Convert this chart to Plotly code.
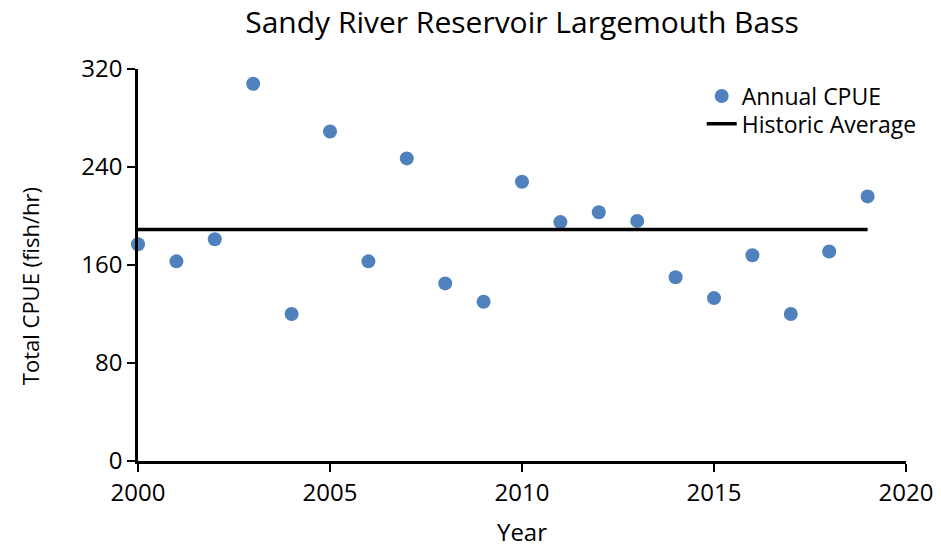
import plotly.graph_objects as go

years = list(range(2000, 2020))
cpue = [177, 163, 181, 308, 120, 269, 163, 247, 145, 130,
        228, 195, 203, 196, 150, 133, 168, 120, 171, 216]
avg_years = [2000, 2019]
avg_value = [189, 189]

font_family = "Open Sans, sans-serif"

fig = go.Figure()
fig.add_trace(go.Scatter(
    x=years, y=cpue, mode="markers", name="Annual CPUE",
    marker=dict(color="#4F81BD", size=14, line=dict(width=0)),
    cliponaxis=False, legend="legend",
))
fig.add_trace(go.Scatter(
    x=avg_years, y=avg_value, mode="lines", name="Historic Average",
    line=dict(color="black", width=3.5),
    cliponaxis=False, legend="legend2",
))

leg_common = dict(xanchor="left", yanchor="middle",
                  bgcolor="rgba(0,0,0,0)", font=dict(size=23),
                  itemwidth=30)

# the page adds an 8px body margin; the figure is sized to fit the window
fig.update_layout(
    width=933, height=540,
    margin=dict(l=130, r=35, t=61, b=87, autoexpand=False),
    paper_bgcolor="white", plot_bgcolor="white",
    font=dict(family=font_family, size=24, color="black"),
    title=dict(text="Sandy River Reservoir Largemouth Bass",
               x=0.5, xanchor="center", xref="paper", y=0.974, yanchor="middle",
               font=dict(size=30, family=font_family, color="black")),
    showlegend=True,
    legend=dict(x=0.734, y=0.931, **leg_common),
    legend2=dict(x=0.734, y=0.860, **leg_common),
    xaxis=dict(range=[2000, 2020], tickmode="linear", tick0=2000, dtick=5,
               showline=True, linecolor="black", linewidth=2.5,
               ticks="outside", ticklen=8, tickwidth=2, tickcolor="black",
               showgrid=False, zeroline=False, automargin=False,
               title=dict(text="Year", font=dict(size=24), standoff=18)),
    yaxis=dict(range=[0, 320], tickmode="linear", tick0=0, dtick=80,
               showline=True, linecolor="black", linewidth=2.5,
               ticks="outside", ticklen=8, tickwidth=2, tickcolor="black",
               showgrid=False, zeroline=False, automargin=False),
    annotations=[dict(text="Total CPUE (fish/hr)", textangle=-90,
                      xref="paper", yref="paper", x=0, y=0.446,
                      xanchor="center", yanchor="middle", xshift=-108,
                      showarrow=False, font=dict(size=22))],
)

fig.write_html("out.html")
